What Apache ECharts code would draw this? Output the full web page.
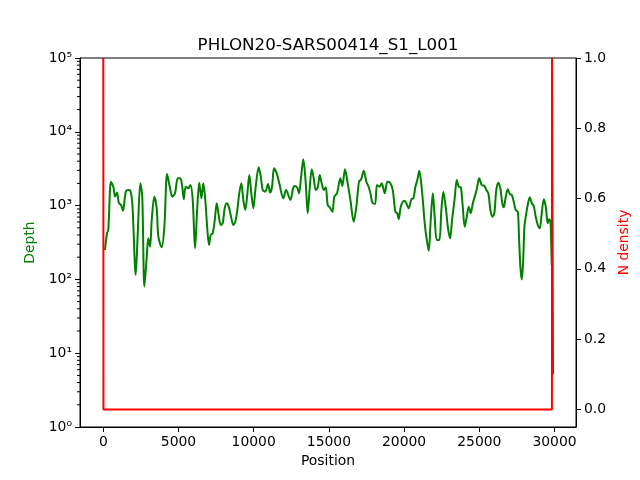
<!DOCTYPE html>
<html>
<head>
<meta charset="utf-8">
<script src="https://cdn.jsdelivr.net/npm/echarts@6/dist/echarts.min.js"></script>
<style>
  html, body { margin: 0; padding: 0; background: #fff; }
  #main { width: 640px; height: 480px; }
</style>
</head>
<body>
<div id="main"></div>
<script>
// depth along the genome
var depthPos = [110, 250, 330, 510, 665, 780, 910, 1040, 1180, 1310, 1490, 1660, 1800, 1930, 2155, 2290,
  2460, 2590, 2730, 2890, 2990, 3110, 3220, 3390, 3550, 3660, 3880, 4060, 4240, 4420, 4590, 4770,
  4950, 5120, 5250, 5350, 5480, 5650, 5790, 5945, 6100, 6250, 6380, 6520, 6650, 6780, 6920, 7030,
  7140, 7275, 7410, 7540, 7670, 7810, 7940, 8070, 8210, 8340, 8470, 8645, 8780, 8910, 9040, 9180,
  9310, 9440, 9580, 9710, 9840, 9975, 10110, 10330, 10470, 10600, 10770, 10950, 11090, 11220, 11350, 11530,
  11700, 11970, 12150, 12440, 12615, 12700, 12880, 13010, 13150, 13300, 13460, 13590, 13730, 13860, 13990, 14125,
  14260, 14390, 14520, 14660, 14790, 14920, 15060, 15230, 15360, 15540, 15760, 15890, 16070, 16250, 16430, 16650,
  16825, 17000, 17140, 17320, 17490, 17620, 17760, 17890, 18070, 18200, 18380, 18510, 18710, 18890, 19070, 19245,
  19420, 19550, 19640, 19780, 20000, 20130, 20310, 20480, 20620, 20750, 20880, 21010, 21150, 21280, 21370, 21510,
  21640, 21770, 21910, 22040, 22170, 22340, 22480, 22610, 22790, 22920, 23060, 23190, 23370, 23500, 23630, 23770,
  23900, 24030, 24170, 24300, 24430, 24570, 24820, 24990, 25160, 25340, 25470, 25600, 25740, 25870, 26000, 26130,
  26270, 26400, 26530, 26630, 26760, 26890, 27030, 27160, 27290, 27420, 27560, 27640, 27730, 27820, 27910, 28000,
  28090, 28220, 28360, 28490, 28620, 28750, 28890, 29020, 29150, 29290, 29420, 29550, 29640, 29730, 29770, 29820];
var depth = [250, 425, 467, 2110, 1800, 1320, 1500, 1075, 1020, 853, 1543, 1627, 1592, 1075, 115, 421,
  2005, 1320, 80, 203, 360, 277, 638, 1320, 919, 379, 272, 518, 2680, 1800, 1320, 1468,
  2344, 2344, 1800, 1217, 1800, 1715, 1901, 1191, 264, 967, 2044, 1256, 2005, 1191, 467, 292,
  400, 421, 638, 1075, 746, 546, 576, 919, 1075, 967, 746, 546, 605, 872, 1468, 2005,
  1191, 872, 1468, 2600, 1468, 919, 1627, 3303, 2465, 1627, 1543, 1962, 1500, 1800, 3200, 2740,
  2005, 1256, 1627, 1191, 1715, 1844, 1770, 1468, 2465, 4240, 2005, 787, 1800, 3104, 2344, 1627,
  1770, 2600, 2005, 1627, 1770, 1020, 948, 827, 1320, 1468, 2344, 1844, 3104, 2005, 1191, 605,
  967, 2110, 2271, 2971, 2110, 1844, 1468, 1095, 1051, 1901, 1800, 2005, 1468, 2110, 2044, 1627,
  827, 787, 652, 967, 1165, 1095, 919, 1217, 1256, 1800, 2222, 2971, 1901, 967, 576, 342,
  245, 638, 1468, 673, 342, 342, 872, 1543, 872, 492, 360, 638, 1295, 2222, 1800, 1770,
  967, 518, 707, 967, 787, 1075, 1627, 2344, 1901, 1844, 1627, 1468, 872, 707, 787, 1627,
  2044, 1715, 1075, 948, 1320, 1663, 1436, 1392, 1130, 872, 827, 379, 149, 100, 165, 518,
  707, 1020, 1295, 1075, 988, 707, 546, 492, 787, 1217, 967, 576, 652, 605, 379, 157];

// N density
var nPos = [0, 10, 29830, 29836, 29895, 29903];
var nDensity = [1, 0, 0, 1, 1, 0.1];

var xMin = -1550, xMax = 31430;
var xTicks = [0, 5000, 10000, 15000, 20000, 25000, 30000];
var nTicks = [0, 0.2, 0.4, 0.6, 0.8, 1.0];
var depthTicks = [1, 10, 100, 1000, 10000, 100000];
var sup = ['\u2070', '\u00b9', '\u00b2', '\u00b3', '\u2074', '\u2075'];

var minorTicks = [];
for (var d = 1; d < 100000; d *= 10) {
  for (var k = 2; k <= 9; k++) minorTicks.push(d * k);
}

function zip(a, b) {
  var out = [];
  for (var i = 0; i < a.length; i++) out.push([a[i], b[i]]);
  return out;
}

var font = 'DejaVu Sans';
var chart = echarts.init(document.getElementById('main'));
var option = {
  animation: false,
  textStyle: { fontFamily: font },
  title: {
    text: 'PHLON20-SARS00414_S1_L001',
    left: 323,
    top: 32,
    textAlign: 'center',
    textStyle: { fontFamily: font, fontSize: 16.7, fontWeight: 'normal', color: '#000' }
  },
  grid: {
    left: 80, right: 64, top: 58, bottom: 53,
    show: true, borderColor: '#000', borderWidth: 1, backgroundColor: 'transparent'
  },
  xAxis: {
    type: 'value',
    min: xMin, max: xMax,
    name: 'Position',
    nameLocation: 'middle',
    nameGap: 27,
    nameTextStyle: { fontFamily: font, fontSize: 13.9, color: '#000' },
    axisLine: { onZero: false, lineStyle: { color: '#000' } },
    axisTick: { customValues: xTicks, length: 5, lineStyle: { color: '#000' } },
    axisLabel: {
      customValues: xTicks, margin: 8, fontFamily: font, fontSize: 13.9, color: '#000',
      formatter: function (v) { return String(v); }
    },
    splitLine: { show: false }
  },
  yAxis: [{
    type: 'log',
    logBase: 10,
    min: 1, max: 100000,
    position: 'left',
    name: 'Depth',
    nameLocation: 'middle',
    nameGap: 39,
    nameTextStyle: { fontFamily: font, fontSize: 13.9, color: 'green' },
    axisLine: { show: true, onZero: false, lineStyle: { color: '#000' } },
    axisTick: { customValues: depthTicks, length: 5, lineStyle: { color: '#000' } },
    axisLabel: {
      customValues: depthTicks, margin: 8, fontFamily: font, fontSize: 13.9, color: '#000',
      formatter: function (v) { return '10' + sup[Math.round(Math.log10(v))]; }
    },
    splitLine: { show: false }
  }, {
    type: 'value',
    min: -0.05, max: 1.0,
    position: 'right',
    name: 'N density',
    nameLocation: 'middle',
    nameGap: 36,
    nameRotate: 90,
    nameTextStyle: { fontFamily: font, fontSize: 13.9, color: 'red' },
    axisLine: { show: true, onZero: false, lineStyle: { color: '#000' } },
    axisTick: { customValues: nTicks, length: 5, lineStyle: { color: '#000' } },
    axisLabel: {
      customValues: nTicks, margin: 8, fontFamily: font, fontSize: 13.9, color: '#000',
      formatter: function (v) { return v.toFixed(1); }
    },
    splitLine: { show: false }
  }],
  series: [{
    type: 'line',
    yAxisIndex: 0,
    data: zip(depthPos, depth),
    showSymbol: false,
    smooth: 0.3,
    lineStyle: { color: 'green', width: 2 },
    itemStyle: { color: 'green' },
    z: 2
  }, {
    type: 'line',
    yAxisIndex: 1,
    data: zip(nPos, nDensity),
    showSymbol: false,
    lineStyle: { color: 'red', width: 2 },
    itemStyle: { color: 'red' },
    z: 3
  }, {
    // minor ticks of the log depth axis
    type: 'custom',
    yAxisIndex: 0,
    clip: false,
    silent: true,
    z: 10,
    data: minorTicks.map(function (v) { return [xMin, v]; }),
    renderItem: function (params, api) {
      var p = api.coord([api.value(0), api.value(1)]);
      return {
        type: 'line',
        shape: { x1: p[0] - 3, y1: p[1], x2: p[0], y2: p[1] },
        style: { stroke: '#000', lineWidth: 1 }
      };
    }
  }]
};
chart.setOption(option);
</script>
</body>
</html>
